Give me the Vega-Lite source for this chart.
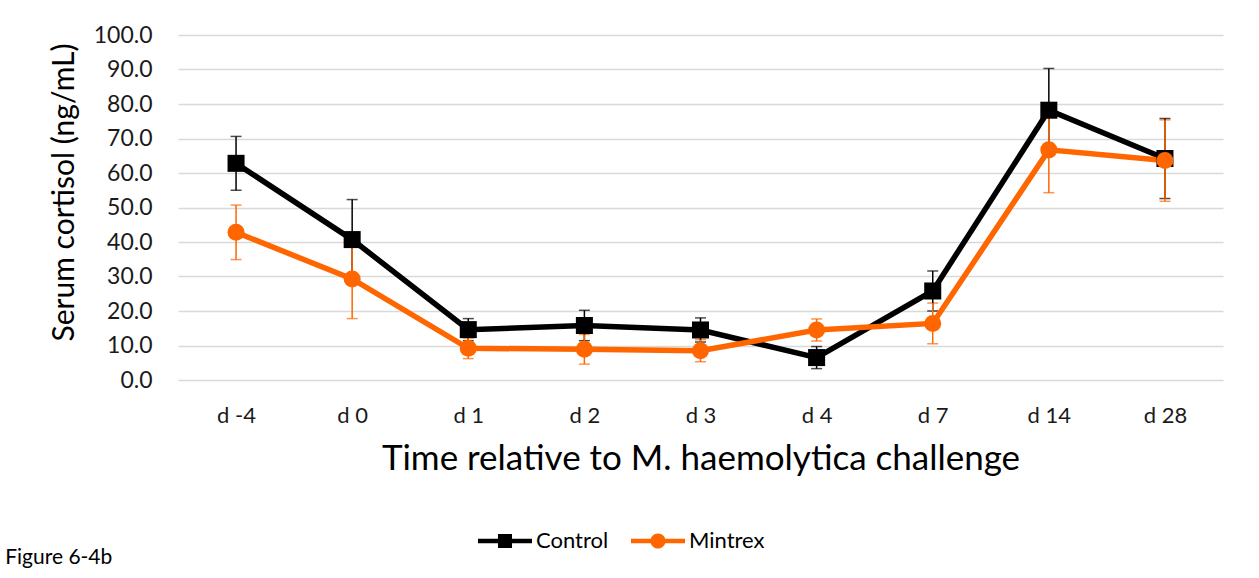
{
  "$schema": "https://vega.github.io/schema/vega-lite/v6.json",
  "autosize": {"type": "none"},
  "width": 1045,
  "height": 345,
  "padding": {"left": 178, "top": 35, "right": 36, "bottom": 198},
  "background": "white",
  "config": {
    "font": "Lato",
    "view": {"stroke": null},
    "axis": {"labelFont": "Lato", "titleFont": "Lato", "labelColor": "#1a1a1a", "titleColor": "#000000", "titleFontWeight": "normal"},
    "title": {"font": "Lato"}
  },
  "title": {"text": "Figure 6-4b", "orient": "bottom", "anchor": "start", "frame": "bounds", "fontSize": 21, "fontWeight": "normal", "color": "#000000", "offset": -5, "dx": -44},
  "data": {
    "values": [
      {"day": "d -4", "group": "Control", "mean": 62.8, "se": 7.8},
      {"day": "d 0", "group": "Control", "mean": 40.7, "se": 11.6},
      {"day": "d 1", "group": "Control", "mean": 14.6, "se": 3.2},
      {"day": "d 2", "group": "Control", "mean": 15.8, "se": 4.4},
      {"day": "d 3", "group": "Control", "mean": 14.5, "se": 3.5},
      {"day": "d 4", "group": "Control", "mean": 6.5, "se": 3.2},
      {"day": "d 7", "group": "Control", "mean": 25.8, "se": 5.8},
      {"day": "d 14", "group": "Control", "mean": 78.2, "se": 12.1},
      {"day": "d 28", "group": "Control", "mean": 64.2, "se": 11.6},
      {"day": "d -4", "group": "Mintrex", "mean": 42.8, "se": 7.9},
      {"day": "d 0", "group": "Mintrex", "mean": 29.3, "se": 11.5},
      {"day": "d 1", "group": "Mintrex", "mean": 9.2, "se": 3.0},
      {"day": "d 2", "group": "Mintrex", "mean": 8.9, "se": 4.3},
      {"day": "d 3", "group": "Mintrex", "mean": 8.5, "se": 3.2},
      {"day": "d 4", "group": "Mintrex", "mean": 14.5, "se": 3.2},
      {"day": "d 7", "group": "Mintrex", "mean": 16.4, "se": 5.9},
      {"day": "d 14", "group": "Mintrex", "mean": 66.7, "se": 12.4},
      {"day": "d 28", "group": "Mintrex", "mean": 63.6, "se": 11.8}
    ]
  },
  "encoding": {
    "x": {
      "field": "day", "type": "nominal",
      "sort": ["d -4", "d 0", "d 1", "d 2", "d 3", "d 4", "d 7", "d 14", "d 28"],
      "scale": {"type": "point", "padding": 0.5},
      "axis": {"title": "Time relative to M. haemolytica challenge", "labelAngle": 0, "labelFontSize": 22, "labelPadding": 25, "titleFontSize": 35, "titlePadding": 15, "domain": false, "ticks": false, "grid": false}
    },
    "color": {
      "field": "group", "type": "nominal",
      "scale": {"domain": ["Control", "Mintrex"], "range": ["#000000", "#FF6600"]},
      "legend": {
        "title": null, "orient": "none", "legendX": 300, "legendY": 479, "direction": "horizontal",
        "labelFontSize": 22, "labelColor": "#000000", "labelFont": "Lato", "labelOffset": 4, "columnPadding": 22,
        "symbolSize": 2916, "symbolStrokeWidth": 0, "symbolOpacity": 1,
        "encode": {
          "symbols": {
            "update": {
              "shape": {"signal": "datum.value === 'Control' ? 'M-1,-0.08H1V0.08H-1Z M-0.26,-0.26H0.26V0.26H-0.26Z' : 'M-1,-0.08H1V0.08H-1Z M0.28,0A0.28,0.28 0 1,1 -0.28,0A0.28,0.28 0 1,1 0.28,0Z'"},
              "fill": {"signal": "datum.value === 'Control' ? '#000000' : '#FF6600'"},
              "strokeWidth": {"value": 0}
            }
          }
        }
      }
    },
    "y": {"field": "mean", "type": "quantitative", "scale": {"domain": [0, 100]},
      "axis": {"title": "Serum cortisol (ng/mL)", "values": [0, 10, 20, 30, 40, 50, 60, 70, 80, 90, 100], "format": ".1f", "labelOverlap": false, "labelFontSize": 23, "labelPadding": 26, "titleFontSize": 30, "titlePadding": 14, "titleY": 157, "domain": false, "ticks": false, "gridColor": "#d9d9d9", "gridWidth": 1.5}}
  },
  "layer": [
    {
      "mark": {"type": "errorbar", "ticks": {"size": 11, "thickness": 1.5}, "thickness": 1.5},
      "encoding": {
        "yError": {"field": "se"}
      }
    },
    {
      "mark": {"type": "line", "strokeWidth": 5.5},
      "encoding": {
        "detail": {"field": "group"}
      }
    },
    {
      "transform": [{"filter": "datum.group === 'Control'"}],
      "mark": {"type": "point", "filled": true, "opacity": 1, "size": 290, "shape": "square"},
      "encoding": {}
    },
    {
      "transform": [{"filter": "datum.group === 'Mintrex'"}],
      "mark": {"type": "point", "filled": true, "opacity": 1, "size": 290, "shape": "circle"},
      "encoding": {}
    }
  ]
}
